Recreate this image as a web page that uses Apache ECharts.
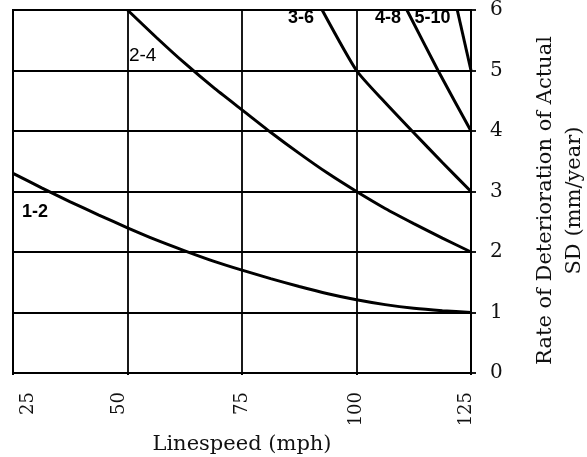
<!DOCTYPE html>
<html><head><meta charset="utf-8">
<script src="https://cdn.jsdelivr.net/npm/echarts@6/dist/echarts.min.js"></script>
<style>html,body{margin:0;padding:0;background:#fff}#c{width:587px;height:457px}</style>
</head><body><div id="c"></div>
<script>
// Data
const xTicks = [25, 50, 75, 100, 125];
const yTicks = [0, 1, 2, 3, 4, 5, 6];
const curve12 = [[25,3.3],[31.25,3.06],[37.5,2.83],[43.75,2.61],[50,2.4],[56.25,2.2],[62.5,2.02],[68.75,1.85],[75,1.70],[81.25,1.56],[87.5,1.43],[93.75,1.31],[100,1.21],[106.25,1.13],[112.5,1.07],[118.75,1.03],[125,1.0]];
const curve24 = [[50,6.0],[56.25,5.55],[62.5,5.12],[68.75,4.72],[75,4.35],[81.25,3.98],[87.5,3.63],[93.75,3.3],[100,3.0],[106.25,2.72],[112.5,2.47],[118.75,2.23],[125,2.0]];
const curve36 = [[92.5,6.0],[100,5.0],[106.25,4.47],[112.5,3.97],[118.75,3.48],[125,3.0]];
const curve48 = [[111,6.0],[117.8,5.0],[125,4.0]];
const curve510 = [[122,6.0],[125,5.0]];
const seriesNames = ['1-2','2-4','3-6','4-8','5-10'];
const labelPos = [[29.8,2.66],[53.3,5.24],[87.9,5.86],[106.9,5.86],[116.6,5.86]];
const labelWeight = ['bold','normal','bold','bold','bold'];
const labelSize = [18, 19, 18, 18, 18];

const curves = [curve12, curve24, curve36, curve48, curve510];
const serif = '"DejaVu Serif", "Liberation Serif", serif';
const narrow = '"Liberation Sans Narrow", "Liberation Sans", Arial, sans-serif';
const tickFont = {fontFamily: serif, fontSize: 18, color: '#111'};

const chart = echarts.init(document.getElementById('c'), null, {renderer:'canvas'});
chart.setOption({
  animation: false,
  backgroundColor: '#fff',
  grid: {left: 13, right: 116, top: 10, bottom: 84, show: true, borderColor: '#000', borderWidth: 2,
    containLabel: false, outerBoundsMode: 'none'},
  xAxis: {
    type: 'value', min: 25, max: 125, interval: 25,
    name: 'Linespeed (mph)', nameLocation: 'middle', nameGap: 45,
    nameTextStyle: {fontFamily: serif, fontSize: 21, color: '#111'},
    axisLine: {show: true, lineStyle: {color: '#000', width: 2}},
    axisTick: {show: true, length: 2, lineStyle: {color: '#000', width: 2}},
    splitLine: {show: true, lineStyle: {color: '#000', width: 1.8}},
    axisLabel: {rotate: 90, margin: 19, fontFamily: serif, fontSize: 18, color: '#111',
      formatter: v => {
        if (!xTicks.includes(v)) return '';
        if (v === 25) return '{r|' + v + '}';
        if (v === 50) return '{l|' + v + '}';
        if (v === 125) return '{s|' + v + '}';
        return String(v);
      },
      rich: {
        r: Object.assign({padding: [30, 0, 0, 0]}, tickFont),
        l: Object.assign({padding: [0, 0, 16, 0]}, tickFont),
        s: Object.assign({padding: [0, 0, 10, 0]}, tickFont)
      }
    }
  },
  yAxis: {
    type: 'value', position: 'right', min: 0, max: 6, interval: 1,
    name: 'Rate of Deterioration of Actual\nSD (mm/year)', nameLocation: 'middle', nameGap: 60, nameRotate: 90,
    nameTextStyle: {fontFamily: serif, fontSize: 21, color: '#111', lineHeight: 29, align: 'center',
      padding: [0, 18, 0, 0]},
    axisLine: {show: true, lineStyle: {color: '#000', width: 2}},
    axisTick: {show: true, length: 5, lineStyle: {color: '#000', width: 1.8}},
    splitLine: {show: true, lineStyle: {color: '#000', width: 1.8}},
    axisLabel: {margin: 19, fontFamily: serif, fontSize: 20, color: '#111',
      formatter: v => yTicks.includes(v) ? String(v) : ''}
  },
  series: curves.map((d, i) => ({
    type: 'line', name: seriesNames[i], data: d, smooth: 0.2,
    showSymbol: false, symbol: 'none',
    lineStyle: {color: '#000', width: 3},
    markPoint: {
      symbol: 'circle', symbolSize: 0,
      label: {show: true, position: 'inside', formatter: seriesNames[i], fontFamily: narrow,
        fontWeight: labelWeight[i], fontSize: labelSize[i], color: '#000'},
      data: [{coord: labelPos[i]}]
    }
  }))
});
</script></body></html>
